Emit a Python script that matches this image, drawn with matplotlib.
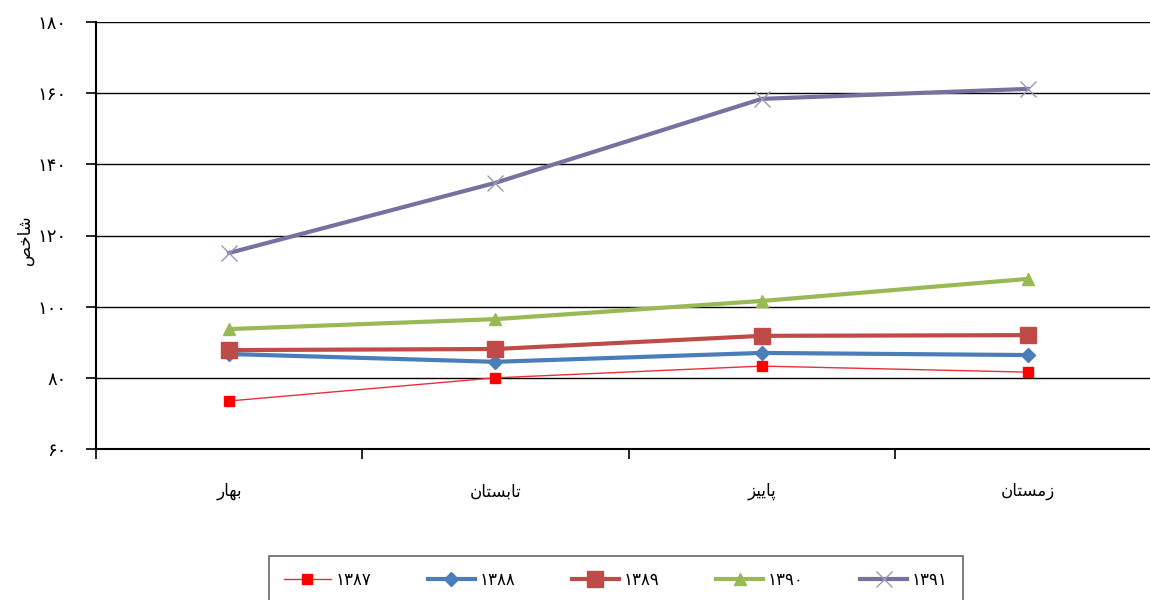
import matplotlib
matplotlib.use("Agg")
import matplotlib.pyplot as plt
from matplotlib.ticker import FixedLocator

# seasons (pre-shaped Arabic presentation forms, visual order)
seasons = ["\uFEAD\uFE8E\uFEEC\uFE91",                      # بهار
           "\uFEE5\uFE8E\uFE98\uFEB4\uFE91\uFE8E\uFE97",    # تابستان
           "\uFEB0\uFBFF\uFBFE\uFE8E\uFB58",                # پاییز
           "\uFEE5\uFE8E\uFE98\uFEB4\uFEE3\uFEAF"]          # زمستان
y_label = "\uFEBA\uFEA7\uFE8E\uFEB7"                        # شاخص

years = ["۱۳۸۷", "۱۳۸۸", "۱۳۸۹", "۱۳۹۰", "۱۳۹۱"]
v1387 = [73.5, 80.0, 83.3, 81.6]
v1388 = [86.7, 84.5, 87.0, 86.4]
v1389 = [87.8, 88.1, 91.8, 92.0]
v1390 = [93.7, 96.5, 101.6, 107.8]
v1391 = [115.1, 134.8, 158.4, 161.2]

y_ticks = [60, 80, 100, 120, 140, 160, 180]
y_tick_labels = ["۶۰", "۸۰", "۱۰۰", "۱۲۰", "۱۴۰", "۱۶۰", "۱۸۰"]

plt.rcParams['font.family'] = ['DejaVu Sans']

fig = plt.figure(figsize=(11.5, 6), dpi=100)
ax = fig.add_axes([96 / 1150, 1 - 449 / 600, (1161 - 96) / 1150, (449 - 22) / 600])

x = range(len(seasons))
ax.plot(x, v1387, color="#E8303A", lw=1, marker="s", ms=7, mfc="#FF0000", mec="#FF0000", label=years[0])
ax.plot(x, v1388, color="#4A7EBB", lw=3, marker="D", ms=7, mfc="#4A7EBB", mec="#4A7EBB", label=years[1])
ax.plot(x, v1389, color="#BE4B48", lw=3, marker="s", ms=11, mfc="#BE4B48", mec="#BE4B48", label=years[2])
ax.plot(x, v1390, color="#98B954", lw=3, marker="^", ms=9, mfc="#98B954", mec="#98B954", label=years[3])
ax.plot(x, v1391, color="#76729F", lw=3, marker="x", ms=11, mew=1, mec="#9A98B8", label=years[4])

ax.set_xlim(-0.5, 3.5)
ax.set_ylim(60, 180)
ax.set_yticks(y_ticks)
ax.set_yticklabels(y_tick_labels, fontsize=13)
ax.set_xticks(list(x))
ax.set_xticklabels(seasons, fontsize=12)
ax.tick_params(axis="x", which="major", length=0, pad=24)
ax.xaxis.set_minor_locator(FixedLocator([-0.5, 0.5, 1.5, 2.5, 3.5]))
ax.tick_params(axis="x", which="minor", length=7, width=1.2, direction="out")
ax.tick_params(axis="y", length=7, width=1.2, pad=14)

ax.grid(axis="y", color="black", lw=1)
ax.set_axisbelow(True)
for s in ["top", "right"]:
    ax.spines[s].set_visible(False)
ax.spines["left"].set_linewidth(1.5)
ax.spines["bottom"].set_linewidth(1.5)

ax.set_ylabel(y_label, fontsize=12)
ax.yaxis.set_label_coords(-62 / 1065, (449 - 240) / 427)

leg = fig.legend(loc="upper center", bbox_to_anchor=(616 / 1150, 1 - 556 / 600), ncol=5,
                 fontsize=12, handlelength=2.8, columnspacing=3.4, handletextpad=0.3,
                 fancybox=False, edgecolor="#404040", borderpad=0.9, borderaxespad=0)
leg.get_frame().set_linewidth(1.2)

fig.savefig("out.png", dpi=100)
